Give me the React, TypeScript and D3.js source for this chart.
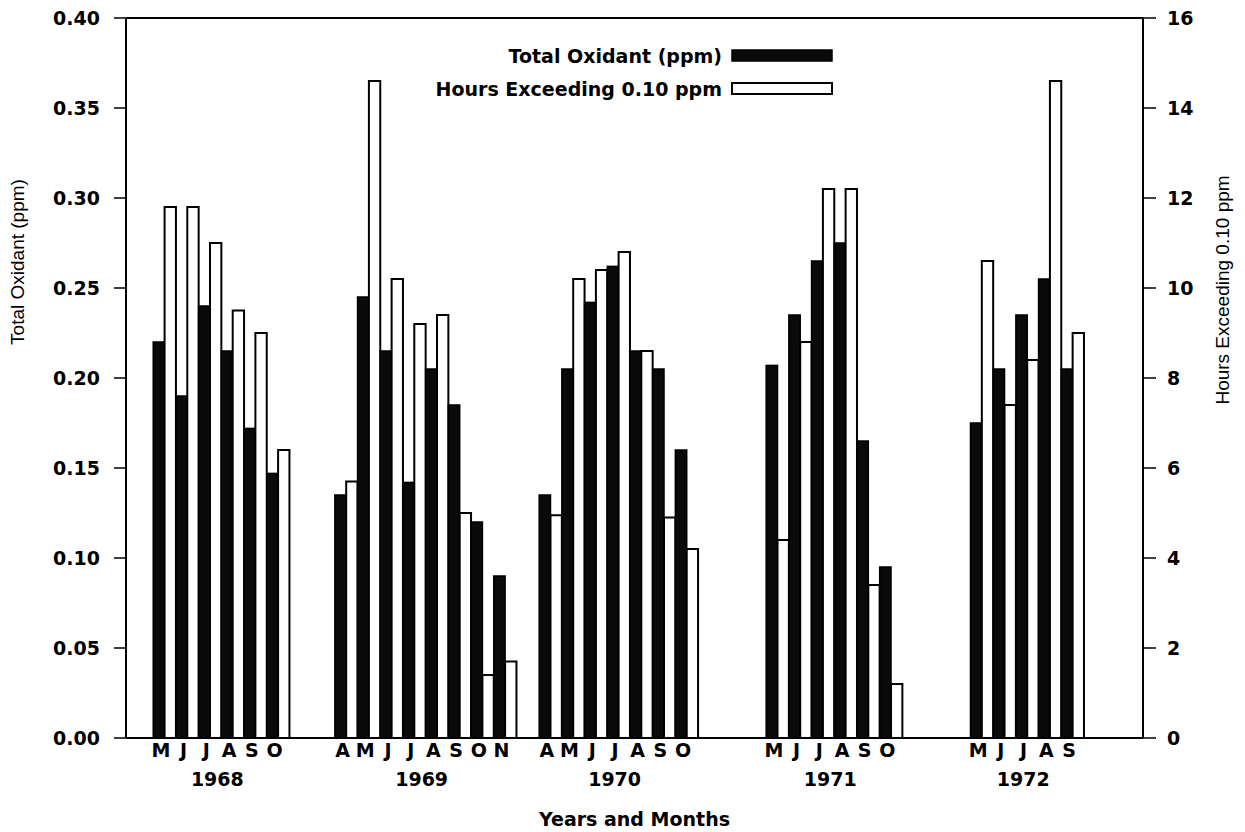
import React from "react";
import * as d3 from "d3";

// ---- Data ----
const years = ["1968", "1969", "1970", "1971", "1972"];
const months1968 = ["M", "J", "J", "A", "S", "O"];
const months1969 = ["A", "M", "J", "J", "A", "S", "O", "N"];
const months1970 = ["A", "M", "J", "J", "A", "S", "O"];
const months1971 = ["M", "J", "J", "A", "S", "O"];
const months1972 = ["M", "J", "J", "A", "S"];

const oxidant1968 = [0.22, 0.19, 0.24, 0.215, 0.172, 0.147];
const oxidant1969 = [0.135, 0.245, 0.215, 0.142, 0.205, 0.185, 0.12, 0.09];
const oxidant1970 = [0.135, 0.205, 0.242, 0.262, 0.215, 0.205, 0.16];
const oxidant1971 = [0.207, 0.235, 0.265, 0.275, 0.165, 0.095];
const oxidant1972 = [0.175, 0.205, 0.235, 0.255, 0.205];

const hours1968 = [11.8, 11.8, 11.0, 9.5, 9.0, 6.4];
const hours1969 = [5.7, 14.6, 10.2, 9.2, 9.4, 5.0, 1.4, 1.7];
const hours1970 = [4.95, 10.2, 10.4, 10.8, 8.6, 4.9, 4.2];
const hours1971 = [4.4, 8.8, 12.2, 12.2, 3.4, 1.2];
const hours1972 = [10.6, 7.4, 8.4, 14.6, 9.0];

const leftTicks = [0, 0.05, 0.1, 0.15, 0.2, 0.25, 0.3, 0.35, 0.4];
const rightTicks = [0, 2, 4, 6, 8, 10, 12, 14, 16];

const legendLabels = ["Total Oxidant (ppm)", "Hours Exceeding 0.10 ppm"];
const leftTitle = "Total Oxidant (ppm)";
const rightTitle = "Hours Exceeding 0.10 ppm";
const xTitle = "Years and Months";

// ---- Layout ----
const W = 1245;
const H = 832;
const plotLeft = 126;
const plotRight = 1143;
const plotTop = 18;
const plotBottom = 738;
// slot where each year's group starts (empty slots separate the groups)
const groupStartSlots = [0, 8, 17, 27, 36];
const slotDomain: [number, number] = [-1.2, 43.6];

const groups = [
  { months: months1968, ox: oxidant1968, hr: hours1968 },
  { months: months1969, ox: oxidant1969, hr: hours1969 },
  { months: months1970, ox: oxidant1970, hr: hours1970 },
  { months: months1971, ox: oxidant1971, hr: hours1971 },
  { months: months1972, ox: oxidant1972, hr: hours1972 },
];

const FONT = "'DejaVu Sans', Verdana, sans-serif";
const TITLE_FONT = "'Liberation Sans', Arial, sans-serif";

export default function App() {
  const x = d3.scaleLinear().domain(slotDomain).range([plotLeft, plotRight]);
  const yL = d3.scaleLinear().domain([0, 0.4]).range([plotBottom, plotTop]);
  const yR = d3.scaleLinear().domain([0, 16]).range([plotBottom, plotTop]);
  const step = x(1) - x(0);
  const bw = step / 2;

  const bars: React.ReactNode[] = [];
  const monthLabels: React.ReactNode[] = [];
  const yearLabels: React.ReactNode[] = [];

  groups.forEach((g, gi) => {
    const s0 = groupStartSlots[gi];
    g.months.forEach((m, i) => {
      const xs = x(s0 + i);
      bars.push(
        <rect
          key={`b${gi}-${i}`}
          x={xs}
          y={yL(g.ox[i])}
          width={bw}
          height={plotBottom - yL(g.ox[i])}
          fill="#0a0a0a"
          stroke="#000"
          strokeWidth={1.5}
        />
      );
      bars.push(
        <rect
          key={`w${gi}-${i}`}
          x={xs + bw}
          y={yR(g.hr[i])}
          width={bw}
          height={plotBottom - yR(g.hr[i])}
          fill="#fff"
          stroke="#000"
          strokeWidth={2}
        />
      );
      monthLabels.push(
        <text
          key={`m${gi}-${i}`}
          x={xs + step * 0.34}
          y={plotBottom + 19}
          textAnchor="middle"
          fontFamily={FONT}
          fontWeight="bold"
          fontSize={19}
        >
          {m}
        </text>
      );
    });
    const center = x(s0 + g.months.length / 2) - 4;
    yearLabels.push(
      <text
        key={`y${gi}`}
        x={center}
        y={plotBottom + 48}
        textAnchor="middle"
        fontFamily={FONT}
        fontWeight="bold"
        fontSize={19}
      >
        {years[gi]}
      </text>
    );
  });

  return (
    <svg
      width={W}
      height={H}
      style={{ position: "absolute", left: 0, top: 0, background: "#fff" }}
    >
      <rect x={0} y={0} width={W} height={H} fill="#fff" />
      {bars}
      {/* frame */}
      <line x1={plotLeft} x2={plotRight} y1={plotTop} y2={plotTop} stroke="#000" strokeWidth={2} />
      <line x1={plotLeft} x2={plotRight} y1={plotBottom} y2={plotBottom} stroke="#000" strokeWidth={2} />
      <line x1={plotLeft} x2={plotLeft} y1={plotTop} y2={plotBottom} stroke="#000" strokeWidth={2} />
      <line x1={plotRight} x2={plotRight} y1={plotTop} y2={plotBottom} stroke="#000" strokeWidth={2} />
      {/* left axis */}
      {leftTicks.map((t) => (
        <g key={`lt${t}`}>
          <line x1={plotLeft - 12} x2={plotLeft} y1={yL(t)} y2={yL(t)} stroke="#000" strokeWidth={1.5} />
          <text
            x={plotLeft - 26}
            y={yL(t)}
            dy="0.36em"
            textAnchor="end"
            fontFamily={FONT}
            fontWeight="bold"
            fontSize={19}
          >
            {d3.format(".2f")(t)}
          </text>
        </g>
      ))}
      {/* right axis */}
      {rightTicks.map((t) => (
        <g key={`rt${t}`}>
          <line x1={plotRight} x2={plotRight + 13} y1={yR(t)} y2={yR(t)} stroke="#000" strokeWidth={1.5} />
          <text
            x={plotRight + 24}
            y={yR(t)}
            dy="0.36em"
            textAnchor="start"
            fontFamily={FONT}
            fontWeight="bold"
            fontSize={19}
          >
            {t}
          </text>
        </g>
      ))}
      {monthLabels}
      {yearLabels}
      {/* axis titles */}
      <text
        transform={`translate(24, 262) rotate(-90)`}
        textAnchor="middle"
        fontFamily={TITLE_FONT}
        fontSize={19}
      >
        {leftTitle}
      </text>
      <text
        transform={`translate(1229, 290) rotate(-90)`}
        textAnchor="middle"
        fontFamily={TITLE_FONT}
        fontSize={19}
      >
        {rightTitle}
      </text>
      <text
        x={(plotLeft + plotRight) / 2}
        y={826}
        textAnchor="middle"
        fontFamily={FONT}
        fontWeight="bold"
        fontSize={19}
      >
        {xTitle}
      </text>
      {/* legend */}
      <text x={722} y={56} dy="0.36em" textAnchor="end" fontFamily={FONT} fontWeight="bold" fontSize={19}>
        {legendLabels[0]}
      </text>
      <rect x={732} y={50} width={100} height={11} fill="#0a0a0a" stroke="#000" strokeWidth={1.5} />
      <text x={722} y={89} dy="0.36em" textAnchor="end" fontFamily={FONT} fontWeight="bold" fontSize={19}>
        {legendLabels[1]}
      </text>
      <rect x={732} y={83} width={100} height={11} fill="#fff" stroke="#000" strokeWidth={2} />
    </svg>
  );
}
